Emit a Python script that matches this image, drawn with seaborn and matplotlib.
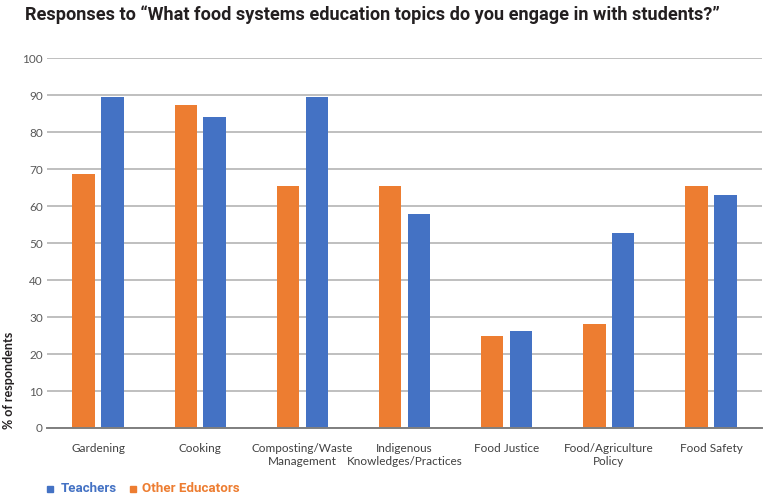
import matplotlib
matplotlib.use("Agg")
import matplotlib.pyplot as plt
import seaborn as sns
import pandas as pd
from matplotlib.patches import Rectangle

categories = ["Gardening", "Cooking", "Composting/Waste\nManagement",
              "Indigenous\nKnowledges/Practices", "Food Justice",
              "Food/Agriculture\nPolicy", "Food Safety"]
other_educators = [68.8, 87.3, 65.5, 65.5, 24.9, 28.1, 65.5]
teachers = [89.5, 84.1, 89.5, 57.8, 26.2, 52.7, 63.1]
groups = ["Other Educators", "Teachers"]
yticks = [0, 10, 20, 30, 40, 50, 60, 70, 80, 90, 100]

ORANGE = "#ED7D31"
BLUE = "#4472C4"

df = pd.DataFrame({
    "topic": categories * 2,
    "group": [groups[0]] * len(categories) + [groups[1]] * len(categories),
    "value": other_educators + teachers,
})

sns.set_theme(style="white")
plt.rcParams["font.family"] = ["Lato", "DejaVu Sans"]

fig = plt.figure(figsize=(7.65, 4.97), dpi=100)
ax = fig.add_axes([47 / 765, 1 - 428 / 497, 715 / 765, (428 - 58.5) / 497])

sns.barplot(data=df, x="topic", y="value", hue="group", hue_order=groups,
            order=categories, palette={groups[0]: ORANGE, groups[1]: BLUE},
            width=0.564, gap=0.22, legend=False, ax=ax, saturation=1,
            edgecolor="none")

ax.set_xlim(-0.5, 6.5)
ax.set_ylim(0, 100)
ax.set_yticks(yticks)
ax.set_yticklabels([str(t) for t in yticks])
ax.yaxis.grid(True, color="#BFBFBF", linewidth=1.4)
ax.set_axisbelow(True)
for s in ["top", "right", "left"]:
    ax.spines[s].set_visible(False)
ax.spines["bottom"].set_color("#7F7F7F")
ax.spines["bottom"].set_linewidth(1.4)
ax.tick_params(axis="y", length=0, pad=3, labelsize=8.5, labelcolor="#595959")
ax.tick_params(axis="x", length=0, pad=11, labelsize=8.5, labelcolor="#404040")
ax.set_xlabel("")
ax.set_ylabel("")

fig.text(25 / 765, 1 - 15 / 497,
         "Responses to \u201cWhat food systems education topics do you engage in with students?\u201d",
         fontsize=13.1, fontweight="bold", color="#231F20", va="center", ha="left",
         family=["Roboto", "DejaVu Sans"])

fig.text(9 / 765, 1 - 429 / 497, "% of respondents", rotation=90,
         fontsize=9, fontweight="bold", color="#231F20", va="bottom", ha="center")

# legend
for label, color, sx, tx in [("Teachers", BLUE, 47, 61), ("Other Educators", ORANGE, 130, 142)]:
    sq = Rectangle((sx / 765, 1 - 492 / 497), 6 / 765, 6 / 497,
                   transform=fig.transFigure, color=color)
    fig.patches.append(sq)
    fig.text(tx / 765, 1 - 489 / 497, label, fontsize=9.6, fontweight="bold",
             color=color, va="center", ha="left",
             family=["Roboto", "DejaVu Sans"])

fig.savefig("out.png", dpi=100)
